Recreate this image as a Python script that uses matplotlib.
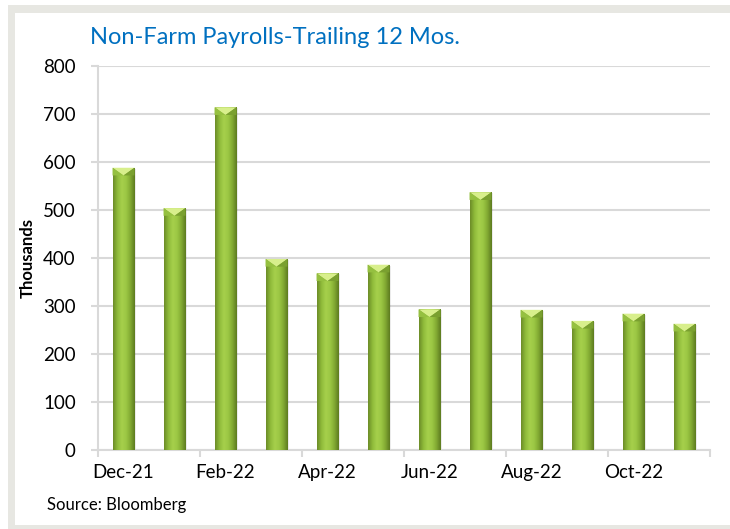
import numpy as np
import matplotlib.pyplot as plt
from matplotlib.patches import Rectangle, Polygon
from matplotlib.colors import LinearSegmentedColormap

months = ['Dec-21', 'Jan-22', 'Feb-22', 'Mar-22', 'Apr-22', 'May-22',
          'Jun-22', 'Jul-22', 'Aug-22', 'Sep-22', 'Oct-22', 'Nov-22']
payrolls = [588, 504, 714, 398, 368, 386, 293, 537, 292, 269, 284, 263]

plt.rcParams['font.family'] = ['Lato', 'DejaVu Sans']

fig = plt.figure(figsize=(7.3, 5.29), dpi=100)
fig.patch.set_facecolor('white')

# gray frame round the white panel
W, H = 730, 529
fig.add_artist(Rectangle((8 / W, 0), 1, 1 - 5 / H, transform=fig.transFigure,
                         facecolor='#e7e7e2', edgecolor='none', zorder=-3))
fig.add_artist(Rectangle((15 / W, 4 / H), 1, 1 - 17 / H, transform=fig.transFigure,
                         facecolor='white', edgecolor='none', zorder=-2))

ax = fig.add_axes([98 / W, 1 - 450 / H, (710 - 98) / W, (450 - 66) / H])
ax.set_facecolor('none')

x = np.arange(len(months))
width = 0.43
bars = ax.bar(x, payrolls, width=width, color='#8db83a', zorder=3)

grad = LinearSegmentedColormap.from_list(
    'barg', ['#6c8c28', '#8fbb3a', '#a6d04c', '#9cc744', '#82aa33', '#5d7b20'])
g = np.linspace(0, 1, 64).reshape(1, -1)
bevel = 16
for b in bars:
    x0, w, h = b.get_x(), b.get_width(), b.get_height()
    # soft shadow
    ax.add_patch(Rectangle((x0 + 0.03, 0), w, h - 2, facecolor='#000000',
                           alpha=0.08, edgecolor='none', zorder=2))
    im = ax.imshow(g, cmap=grad, aspect='auto', extent=(x0, x0 + w, 0, h),
                   zorder=4, interpolation='bicubic')
    im.set_clip_path(b)
    # bevelled top
    ax.add_patch(Polygon([(x0, h), (x0 + w, h), (x0 + w / 2, h - bevel)],
                         closed=True, facecolor='#d8ef8c', edgecolor='none', zorder=5))
    ax.add_patch(Polygon([(x0, h), (x0 + w / 2, h - bevel), (x0, h - bevel)],
                         closed=True, facecolor='#95c040', edgecolor='none', zorder=5))
    ax.add_patch(Polygon([(x0 + w, h), (x0 + w / 2, h - bevel), (x0 + w, h - bevel)],
                         closed=True, facecolor='#7aa030', edgecolor='none', zorder=5))

ax.set_xlim(-0.5, len(months) - 0.5)
ax.set_ylim(0, 800)
ax.set_yticks(range(0, 801, 100))
ax.grid(axis='y', color='#d9d9d9', linewidth=1.5, zorder=0)
ax.set_axisbelow(True)

ax.set_xticks(x[::2])
ax.set_xticklabels(months[::2])
ax.set_xticks(np.arange(-0.5, len(months), 2), minor=True)
ax.tick_params(axis='x', which='major', length=0, pad=10, labelsize=13.5)
ax.tick_params(axis='x', which='minor', length=5, color='#d9d9d9', width=1.5)
ax.tick_params(axis='y', length=5, color='#d9d9d9', width=1.5, pad=11, labelsize=13.5)

for s in ['top', 'right']:
    ax.spines[s].set_visible(False)
for s in ['left', 'bottom']:
    ax.spines[s].set_color('#d9d9d9')
    ax.spines[s].set_linewidth(1.5)

ax.set_ylabel('Thousands', fontsize=12, fontweight='bold', labelpad=5)

fig.text(90 / W, 1 - 38 / H, 'Non-Farm Payrolls-Trailing 12 Mos.', color='#0070c0',
         fontsize=17, va='center', ha='left')
fig.text(47 / W, 1 - 505 / H, 'Source: Bloomberg', fontsize=12, va='center', ha='left')

fig.savefig('out.png', dpi=100)
